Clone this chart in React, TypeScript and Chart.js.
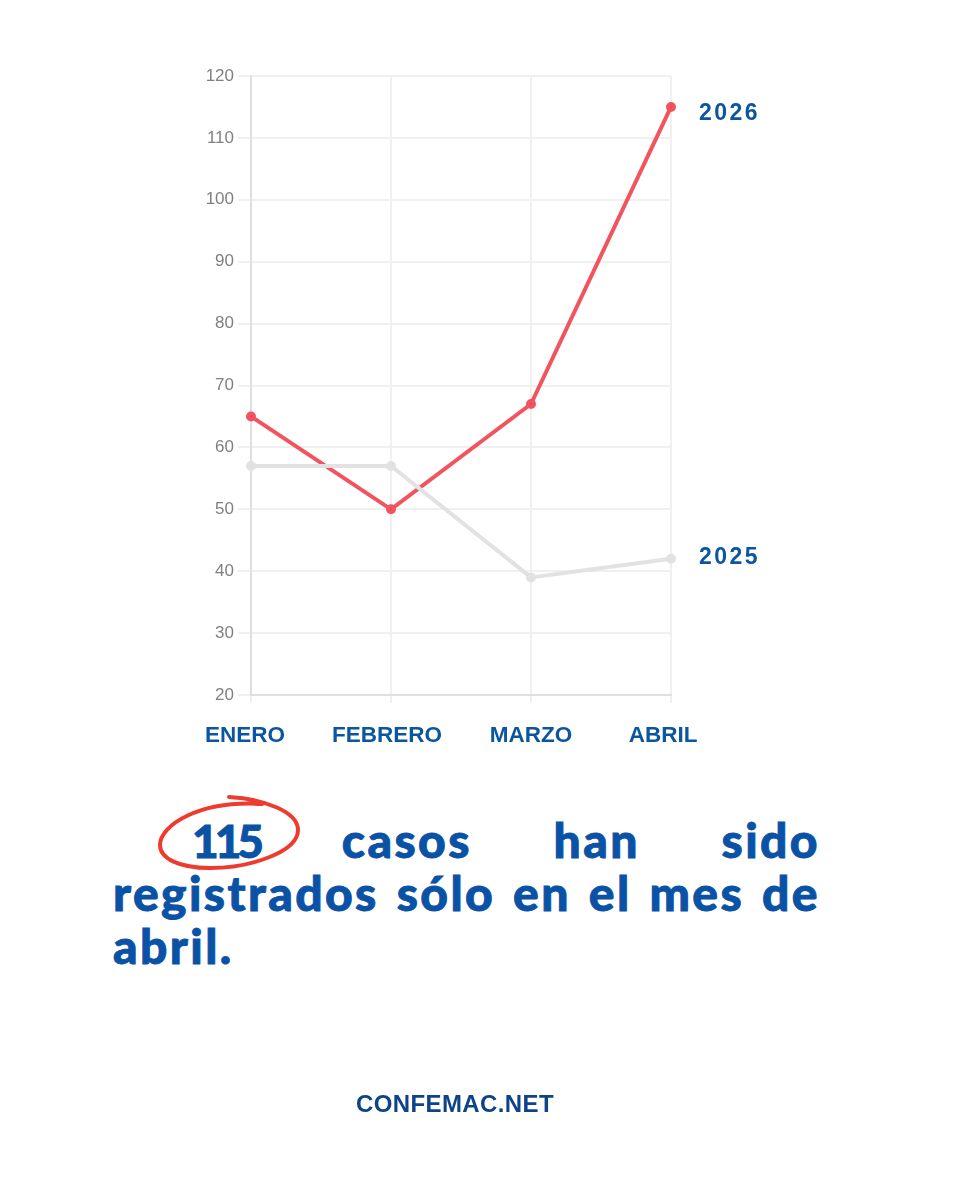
import React, { useEffect, useRef } from "react";
import { Chart, registerables } from "chart.js";

Chart.register(...registerables);

const months = ["ENERO", "FEBRERO", "MARZO", "ABRIL"];
const values2026 = [65, 50, 67, 115];
const values2025 = [57, 57, 39, 42];
const yMin = 20;
const yMax = 120;
const yStep = 10;

const BLUE = "#0b569f";
const endLabelNudge: Record<string, number> = { "2026": 7, "2025": -1 };
const monthLabelNudge = [-6, -4, 0, -8];

const endLabels = {
  id: "endLabels",
  beforeDraw(chart: any) {
    const items = chart.scales.x.getLabelItems(chart.chartArea);
    items.forEach((item: any, i: number) => {
      item.options.translation = [item.options.translation[0] + monthLabelNudge[i], item.options.translation[1]];
    });
  },
  afterDatasetsDraw(chart: any) {
    const { ctx } = chart;
    ctx.save();
    ctx.font = 'bold 23px "Liberation Sans", Arial, sans-serif';
    (ctx as any).letterSpacing = "2.5px";
    ctx.fillStyle = BLUE;
    ctx.textAlign = "left";
    ctx.textBaseline = "middle";
    chart.data.datasets.forEach((ds: any, i: number) => {
      const last = ds.data.length - 1;
      const pt = chart.getDatasetMeta(i).data[last];
      ctx.fillText(ds.label, pt.x + 28, pt.y + endLabelNudge[ds.label]);
    });
    ctx.restore();
  },
};

export default function App() {
  const ref = useRef<HTMLCanvasElement>(null);
  useEffect(() => {
    const chart = new Chart(ref.current!, {
      type: "line",
      plugins: [endLabels],
      data: {
        labels: months,
        datasets: [
          {
            label: "2025",
            data: values2025,
            borderColor: "#e2e2e2",
            backgroundColor: "#e2e2e2",
            borderWidth: 4,
            pointRadius: 3,
            tension: 0,
            clip: false as any,
          },
          {
            label: "2026",
            data: values2026,
            borderColor: "#f2545f",
            backgroundColor: "#ee3f4e",
            borderWidth: 4,
            pointRadius: 3,
            tension: 0,
            clip: false as any,
          },
        ],
      },
      options: {
        animation: false,
        responsive: false,
        devicePixelRatio: 1,
        layout: { padding: { top: 76, right: 289, bottom: 0, left: 0 } },
        plugins: { legend: { display: false }, tooltip: { enabled: false } },
        scales: {
          x: {
            afterFit(s: any) {
              s.height = 65;
              s.paddingLeft = 0;
              s.paddingRight = 0;
            },
            grid: { color: "#f0f0f0", lineWidth: 2, tickLength: 8 },
            border: { color: "#dfdfdf", width: 2 },
            ticks: {
              color: BLUE,
              font: { family: '"Liberation Sans", Arial, sans-serif', size: 22.5, weight: "bold" },
              padding: 19,
              maxRotation: 0,
              autoSkip: false,
            },
          },
          y: {
            min: yMin,
            max: yMax,
            afterFit(s: any) {
              s.width = 251;
              s.paddingTop = 0;
              s.paddingBottom = 0;
            },
            grid: { color: "#f0f0f0", lineWidth: 2, tickLength: 13 },
            border: { color: "#dfdfdf", width: 2 },
            ticks: {
              stepSize: yStep,
              color: "#808080",
              padding: 4,
              font: { family: '"Liberation Sans", Arial, sans-serif', size: 17 },
            },
          },
        },
      },
    });
    return () => chart.destroy();
  }, []);

  const headLine: React.CSSProperties = {
    position: "absolute",
    right: 140,
    height: 53,
    font: '900 48px/53px Lato, "Open Sans", sans-serif',
    color: "#0a52a6",
    WebkitTextStroke: "0.9px #0a52a6",
    textAlign: "justify",
    textAlignLast: "justify",
    letterSpacing: "2.4px",
  };

  return (
    <div style={{ position: "absolute", left: 0, top: 0, width: 960, height: 1200, background: "#fff", overflow: "hidden" }}>
      <canvas ref={ref} width={960} height={760} style={{ position: "absolute", left: 0, top: 0 }} />
      <div style={{ ...headLine, left: 192, top: 813 }}>
        <span style={{ letterSpacing: "-4px", fontSize: 46 }}>115</span> casos han sido
      </div>
      <div style={{ ...headLine, left: 113, top: 866 }}>registrados sólo en el mes de</div>
      <div style={{ ...headLine, left: 113, top: 919, textAlign: "left", textAlignLast: "left" }}>abril.</div>
      <svg width={960} height={1200} style={{ position: "absolute", left: 0, top: 0, pointerEvents: "none" }}>
        <path
          d="M229 797 C265 799 298 812 298 830 C298 852 250 868 210 868 C178 868 160 858 160 845 C160 825 200 800 262 804"
          fill="none"
          stroke="#ee3b30"
          strokeWidth={4}
          strokeLinecap="round"
        />
      </svg>
      <div
        style={{
          position: "absolute",
          left: 255,
          width: 400,
          top: 1090,
          textAlign: "center",
          font: 'bold 24px/28px "Liberation Sans", Arial, sans-serif',
          color: "#0d4488",
          letterSpacing: "0.4px",
        }}
      >
        CONFEMAC.NET
      </div>
    </div>
  );
}
